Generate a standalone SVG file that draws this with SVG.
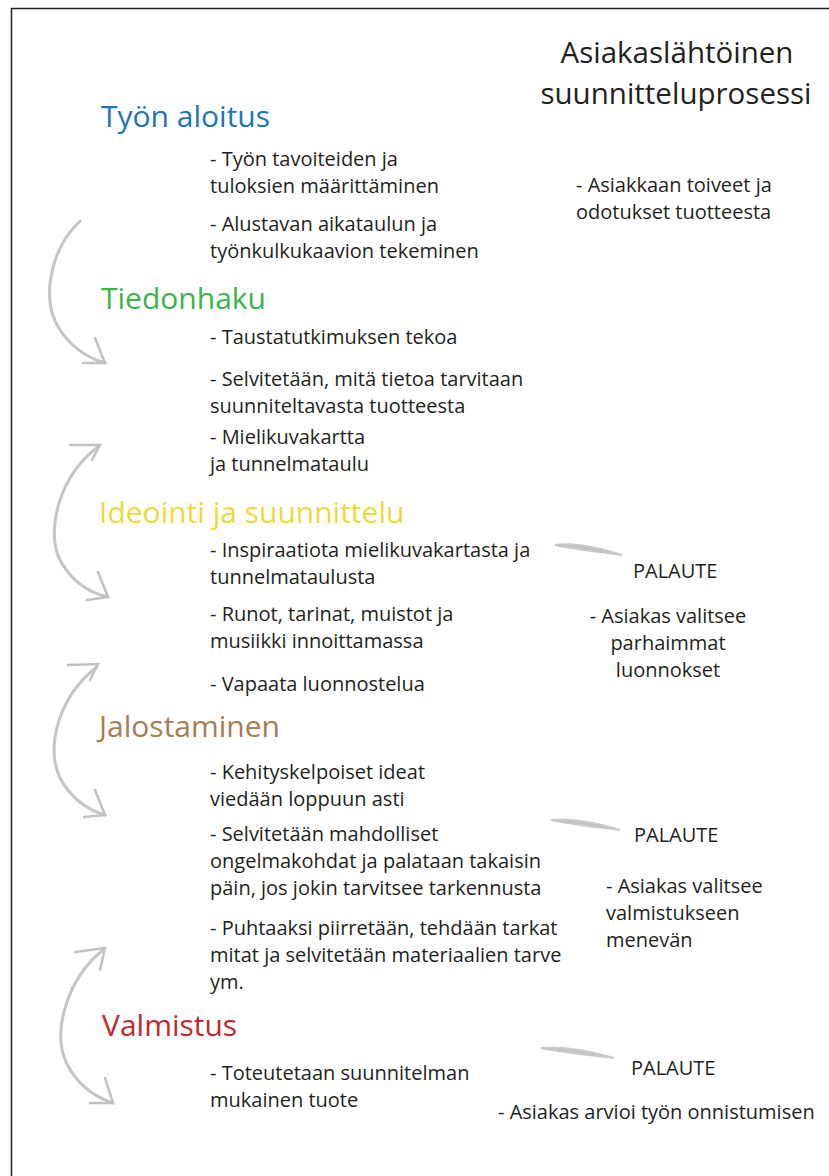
<svg xmlns="http://www.w3.org/2000/svg" width="829" height="1176" viewBox="0 0 829 1176">
<defs>
<style>
.t{font-family:"Open Sans","Liberation Sans",sans-serif;font-size:20px;fill:#231f20}
.h{font-family:"Open Sans","Liberation Sans",sans-serif;font-size:30px}
.ti{font-family:"Open Sans","Liberation Sans",sans-serif;font-size:29.5px;fill:#231f20;text-anchor:middle}
.c{fill:none;stroke:#c4c5c7;stroke-width:3;stroke-linecap:round;stroke-linejoin:round}
.ah{fill:none;stroke:#c0c1c3;stroke-width:2.5;stroke-linecap:round}
.br{fill:#a7a9ac;opacity:0.7}
</style>
</defs>
<rect x="0" y="0" width="829" height="1176" fill="#fff"/>
<path d="M11.5 1176 V8.5 H829" fill="none" stroke="#231f20" stroke-width="1.5"/>

<g id="title">
<text class="ti" x="677" y="63">Asiakaslähtöinen</text>
<text class="ti" x="676" y="104">suunnitteluprosessi</text>
</g>

<g id="tyon-aloitus">
<text class="h" x="101" y="127" fill="#1c75bc">Työn aloitus</text>
<text class="t" x="210" y="166">- Työn tavoiteiden ja</text>
<text class="t" x="210" y="193">tuloksien määrittäminen</text>
<text class="t" x="210" y="231">- Alustavan aikataulun ja</text>
<text class="t" x="210" y="258">työnkulkukaavion tekeminen</text>
</g>
<g id="asiakas-toiveet">
<text class="t" x="576" y="192">- Asiakkaan toiveet ja</text>
<text class="t" x="576" y="219">odotukset tuotteesta</text>
</g>

<g id="tiedonhaku">
<text class="h" x="101" y="309" fill="#3ab54a">Tiedonhaku</text>
<text class="t" x="210" y="344">- Taustatutkimuksen tekoa</text>
<text class="t" x="210" y="386">- Selvitetään, mitä tietoa tarvitaan</text>
<text class="t" x="210" y="413">suunniteltavasta tuotteesta</text>
<text class="t" x="210" y="444">- Mielikuvakartta</text>
<text class="t" x="210" y="471">ja tunnelmataulu</text>
</g>

<g id="ideointi">
<text class="h" x="99" y="523" fill="#eada3a">Ideointi ja suunnittelu</text>
<text class="t" x="210" y="557">- Inspiraatiota mielikuvakartasta ja</text>
<text class="t" x="210" y="584">tunnelmataulusta</text>
<text class="t" x="210" y="621">- Runot, tarinat, muistot ja</text>
<text class="t" x="210" y="648">musiikki innoittamassa</text>
<text class="t" x="210" y="691">- Vapaata luonnostelua</text>
</g>
<g id="palaute1">
<text class="t" x="633" y="578">PALAUTE</text>
<text class="t" x="668" y="623" text-anchor="middle">- Asiakas valitsee</text>
<text class="t" x="668" y="650" text-anchor="middle">parhaimmat</text>
<text class="t" x="668" y="677" text-anchor="middle">luonnokset</text>
</g>

<g id="jalostaminen">
<text class="h" x="99" y="737" fill="#a97c50">Jalostaminen</text>
<text class="t" x="210" y="779">- Kehityskelpoiset ideat</text>
<text class="t" x="210" y="806">viedään loppuun asti</text>
<text class="t" x="210" y="841">- Selvitetään mahdolliset</text>
<text class="t" x="210" y="868">ongelmakohdat ja palataan takaisin</text>
<text class="t" x="210" y="895">päin, jos jokin tarvitsee tarkennusta</text>
<text class="t" x="210" y="935">- Puhtaaksi piirretään, tehdään tarkat</text>
<text class="t" x="210" y="962">mitat ja selvitetään materiaalien tarve</text>
<text class="t" x="210" y="989">ym.</text>
</g>
<g id="palaute2">
<text class="t" x="634" y="842">PALAUTE</text>
<text class="t" x="606" y="893">- Asiakas valitsee</text>
<text class="t" x="606" y="920">valmistukseen</text>
<text class="t" x="606" y="947">menevän</text>
</g>

<g id="valmistus">
<text class="h" x="102" y="1036" fill="#c1272d">Valmistus</text>
<text class="t" x="210" y="1080">- Toteutetaan suunnitelman</text>
<text class="t" x="210" y="1107">mukainen tuote</text>
</g>
<g id="palaute3">
<text class="t" x="631" y="1075">PALAUTE</text>
<text class="t" x="498" y="1119">- Asiakas arvioi työn onnistumisen</text>
</g>

<g id="connectors">
<path class="c" d="M80 221 C50 250 40 300 60 330 C72 348 88 358 105 363"/>
<path class="ah" d="M95 338 L105 363 L83 363"/>
<path class="c" d="M98 447 C60 475 45 530 60 560 C72 582 90 593 108 597"/>
<path class="ah" d="M70 445 L100 445 L92 460"/>
<path class="ah" d="M98 572 L108 597 L87 600"/>
<path class="c" d="M97 667 C60 695 45 745 60 778 C72 800 88 810 105 815"/>
<path class="ah" d="M68 665 L98 664 L90 680"/>
<path class="ah" d="M95 790 L105 815 L84 817"/>
<path class="c" d="M103 950 C68 978 52 1030 66 1062 C77 1085 95 1097 113 1103"/>
<path class="ah" d="M75 952 L105 948 L100 970"/>
<path class="ah" d="M105 1078 L113 1103 L90 1103"/>
<path class="br" d="M555 545 C575 542 600 548 622 555 C600 552 578 550 555 545 Z" stroke="#b1b3b6" stroke-width="2"/>
<path class="br" d="M551 820 C572 818 598 823 620 830 C598 827 575 825 551 820 Z" stroke="#b1b3b6" stroke-width="2"/>
<path class="br" d="M541 1048 C562 1046 590 1051 614 1058 C590 1055 565 1053 541 1048 Z" stroke="#b1b3b6" stroke-width="2"/>
</g>
</svg>
